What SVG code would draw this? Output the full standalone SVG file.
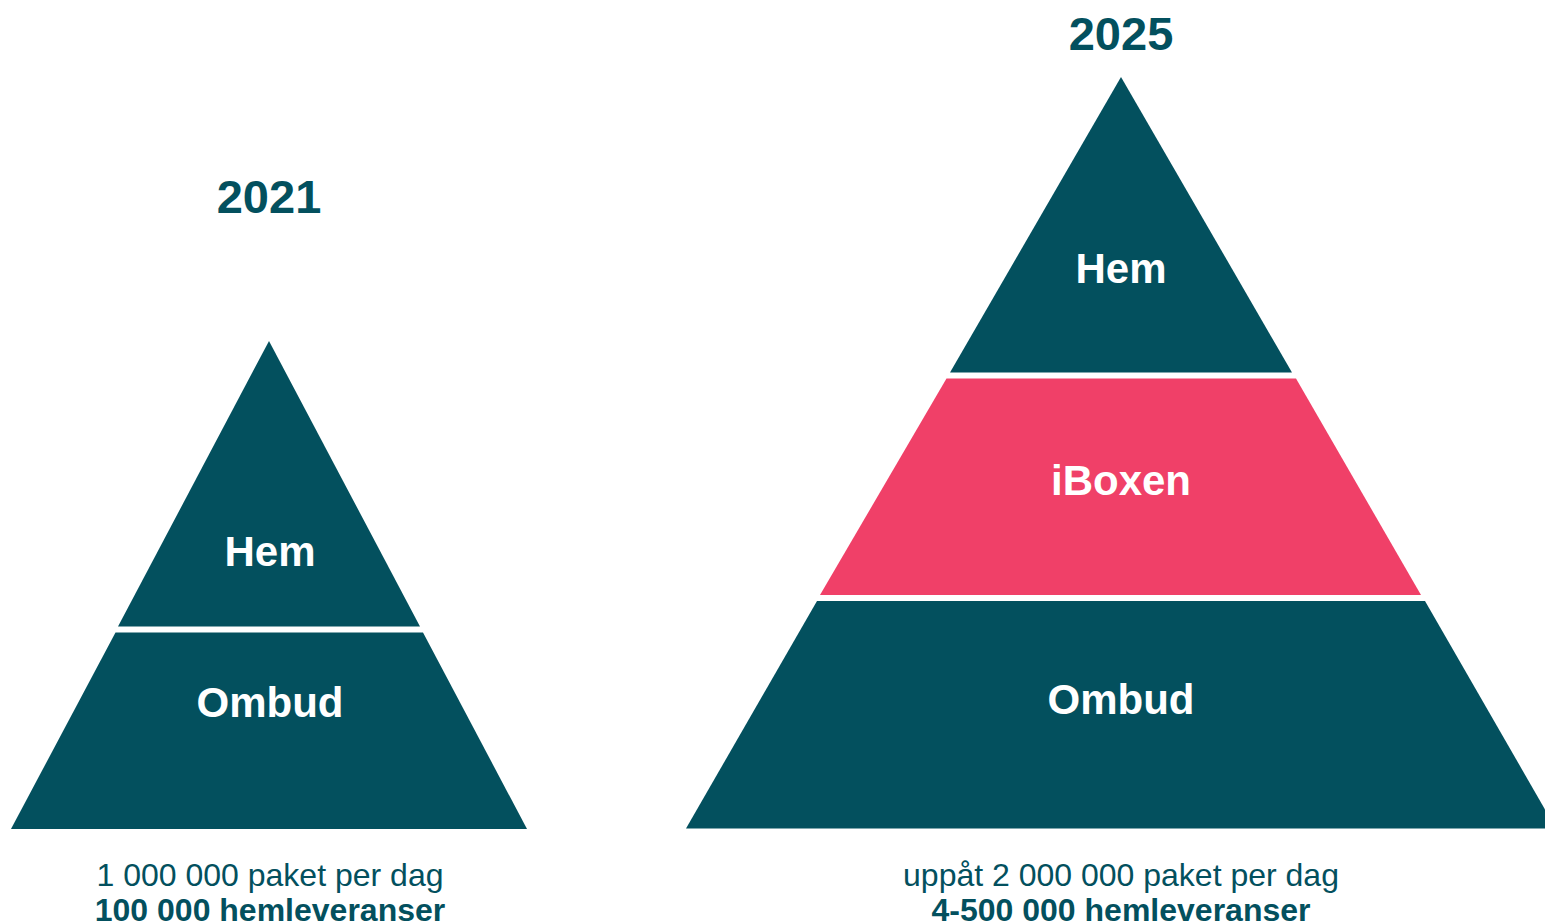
<svg xmlns="http://www.w3.org/2000/svg" width="1545" height="924" viewBox="0 0 1545 924">
<style>
.dark{fill:#03505E}
.pink{fill:#F04068}
.lbl{font-family:"Liberation Sans",Arial,sans-serif;font-weight:bold;font-size:42px;fill:#FFFFFF;text-anchor:middle}
.year{font-family:"Liberation Sans",Arial,sans-serif;font-weight:bold;font-size:47px;fill:#03505E;text-anchor:middle}
.cap{font-family:"Liberation Sans",Arial,sans-serif;font-size:32px;fill:#03505E;text-anchor:middle}
.capb{font-family:"Liberation Sans",Arial,sans-serif;font-weight:bold;font-size:32px;fill:#03505E;text-anchor:middle}
</style>
<rect width="1545" height="924" fill="#FFFFFF"/>
<g id="p2021">
  <text class="year" x="269" y="213">2021</text>
  <g id="p2021-hem">
    <polygon class="dark" points="269,341 420,626.5 118,626.5"/>
    <text class="lbl" x="270" y="566">Hem</text>
  </g>
  <g id="p2021-ombud">
    <polygon class="dark" points="115.5,632.5 423,632.5 527,829 11,829"/>
    <text class="lbl" x="270" y="717">Ombud</text>
  </g>
  <text class="cap" x="270" y="886">1 000 000 paket per dag</text>
  <text class="capb" x="270" y="921">100 000 hemleveranser</text>
</g>
<g id="p2025">
  <text class="year" x="1121" y="50">2025</text>
  <g id="p2025-hem">
    <polygon class="dark" points="1121,77 1292,372.5 950,372.5"/>
    <text class="lbl" x="1121" y="283">Hem</text>
  </g>
  <g id="p2025-iboxen">
    <polygon class="pink" points="946.5,378.5 1296,378.5 1421,595 820,595"/>
    <text class="lbl" x="1121" y="495">iBoxen</text>
  </g>
  <g id="p2025-ombud">
    <polygon class="dark" points="817,601 1425,601 1556,828.5 686,828.5"/>
    <text class="lbl" x="1121" y="714">Ombud</text>
  </g>
  <text class="cap" x="1121" y="886">uppåt 2 000 000 paket per dag</text>
  <text class="capb" x="1121" y="921">4-500 000 hemleveranser</text>
</g>
<g id="connectors"/>
</svg>
